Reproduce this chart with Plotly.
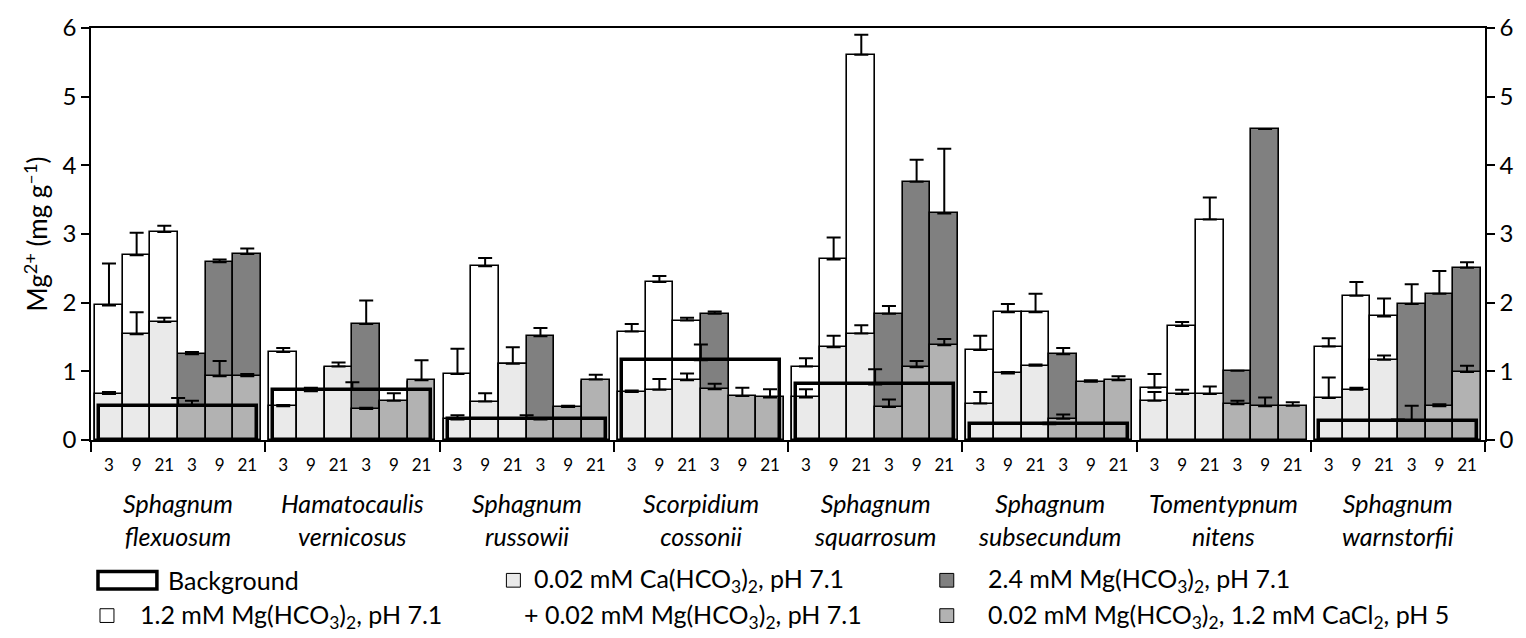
import plotly.graph_objects as go

# ---------------- data ----------------
genus = ["Sphagnum", "Hamatocaulis", "Sphagnum", "Scorpidium",
         "Sphagnum", "Sphagnum", "Tomentypnum", "Sphagnum"]
epithet = ["flexuosum", "vernicosus", "russowii", "cossonii",
           "squarrosum", "subsecundum", "nitens", "warnstorfii"]
days = ["3", "9", "21"]

# 1.2 mM Mg(HCO3)2, pH 7.1 (white), days 3/9/21 for each species
mg12 = [1.96, 2.69, 3.03,  1.28, 0.70, 1.05,  0.96, 2.53, 1.10,  1.58, 2.30, 1.74,
        1.07, 2.63, 5.61,  1.31, 1.86, 1.86,  0.76, 1.66, 3.21,  1.36, 2.10, 1.80]
mg12_err = [0.61, 0.33, 0.09,  0.06, 0.00, 0.00,  0.37, 0.12, 0.00,  0.11, 0.09, 0.04,
            0.12, 0.32, 0.29,  0.21, 0.12, 0.27,  0.20, 0.06, 0.32,  0.12, 0.20, 0.26]

# 0.02 mM Ca(HCO3)2 + 0.02 mM Mg(HCO3)2, pH 7.1 (light grey)
ca002 = [0.67, 1.54, 1.72,  0.49, 0.71, 1.07,  0.30, 0.56, 1.11,  0.70, 0.73, 0.87,
         0.62, 1.35, 1.55,  0.53, 0.97, 1.08,  0.57, 0.67, 0.67,  0.61, 0.73, 1.17]
ca002_err = [0.03, 0.32, 0.06,  0.02, 0.05, 0.06,  0.06, 0.12, 0.24,  0.02, 0.16, 0.10,
             0.12, 0.17, 0.12,  0.17, 0.02, 0.02,  0.13, 0.06, 0.11,  0.30, 0.03, 0.06]

# 2.4 mM Mg(HCO3)2, pH 7.1 (dark grey)
mg24 = [1.25, 2.59, 2.71,  1.69, 0.55, 0.85,  1.51, 0.46, 0.85,  1.84, 0.62, 0.60,
        1.84, 3.76, 3.30,  1.25, 0.83, 0.85,  1.01, 4.53, 0.48,  1.98, 2.13, 2.51]
mg24_err = [0.03, 0.04, 0.08,  0.34, 0.00, 0.00,  0.12, 0.00, 0.00,  0.03, 0.00, 0.00,
            0.11, 0.32, 0.94,  0.09, 0.00, 0.00,  0.00, 0.00, 0.00,  0.29, 0.33, 0.08]

# 0.02 mM Mg(HCO3)2, 1.2 mM CaCl2, pH 5 (medium grey)
mgca = [0.50, 0.93, 0.93,  0.45, 0.57, 0.87,  0.30, 0.48, 0.88,  0.74, 0.64, 0.62,
        0.48, 1.06, 1.38,  0.31, 0.85, 0.87,  0.52, 0.49, 0.50,  0.28, 0.49, 0.99]
mgca_err = [0.07, 0.22, 0.03,  0.02, 0.11, 0.29,  0.02, 0.02, 0.07,  0.08, 0.12, 0.12,
            0.11, 0.09, 0.09,  0.06, 0.02, 0.06,  0.05, 0.13, 0.05,  0.22, 0.03, 0.09]

# Background
background = [0.50, 0.73, 0.31, 1.16, 0.81, 0.23, None, 0.28]
background_err = [0.11, 0.11, 0.05, 0.23, 0.22, 0.02, 0.0, 0.02]

# ---------------- layout helpers ----------------
FONT = "Lato, 'Open Sans', sans-serif"
G = 6.3                      # width of one species group in bar units
n_groups = len(genus)


def bar_pos(g, i):
    return g * G + (G - 6) / 2 + 0.5 + i


x_first = [bar_pos(g, i) for g in range(n_groups) for i in range(3)]
x_second = [bar_pos(g, i + 3) for g in range(n_groups) for i in range(3)]
x_centers = [g * G + G / 2 for g in range(n_groups)]
bar_ticks = [bar_pos(g, i) for g in range(n_groups) for i in range(6)]
bar_ticktext = days * 2 * n_groups
boundaries = [g * G for g in range(n_groups + 1)]

L, R, T, B = 91, 39, 20, 198
W, H = 1526, 638
PW, PH = W - L - R, H - T - B


def px(X):
    return (X - L) / PW


def py(Y):
    return (H - B - Y) / PH


def err(arr):
    return dict(type="data", symmetric=False, array=arr, arrayminus=[0] * len(arr),
                color="black", thickness=2, width=7)


fig = go.Figure()
line = dict(color="black", width=1.6)
fig.add_bar(x=x_first, y=mg12, width=1, marker=dict(color="#FFFFFF", line=line),
            error_y=err(mg12_err), showlegend=False)
fig.add_bar(x=x_second, y=mg24, width=1, marker=dict(color="#808080", line=line),
            error_y=err(mg24_err), showlegend=False)
fig.add_bar(x=x_first, y=ca002, width=1, marker=dict(color="#EAEAEA", line=line),
            error_y=err(ca002_err), showlegend=False)
fig.add_bar(x=x_second, y=mgca, width=1, marker=dict(color="#B2B2B2", line=line),
            error_y=err(mgca_err), showlegend=False)
fig.add_bar(x=x_centers, y=background, width=5.72,
            marker=dict(color="rgba(0,0,0,0)", line=dict(color="black", width=3.5)),
            error_y=err(background_err), showlegend=False)
# invisible trace to activate the right-hand axis
fig.add_scatter(x=[x_centers[0]], y=[0], yaxis="y2", mode="markers",
                marker=dict(opacity=0), hoverinfo="skip", showlegend=False)

axis_font = dict(family=FONT, size=24, color="black")
fig.update_layout(
    width=W, height=H,
    margin=dict(l=L, r=R, t=T, b=B),
    paper_bgcolor="white", plot_bgcolor="white",
    barmode="overlay", bargap=0,
    font=dict(family=FONT, color="black"),
    xaxis=dict(range=[0, n_groups * G], tickmode="array", tickvals=bar_ticks,
               ticktext=bar_ticktext, ticks="", tickfont=dict(family=FONT, size=17, color="black"),
               ticklabelstandoff=9,
               showline=True, linecolor="black", linewidth=1.5, mirror=True,
               showgrid=False, zeroline=False,
               minor=dict(tickmode="array", tickvals=boundaries, ticks="outside",
                          ticklen=10, tickwidth=1.5, tickcolor="black", showgrid=False)),
    yaxis=dict(range=[0, 6], tickmode="array", tickvals=[0, 1, 2, 3, 4, 5, 6],
               ticks="outside", ticklen=8, tickwidth=1.5, tickcolor="black",
               showline=True, linecolor="black", linewidth=1.5,
               showgrid=False, zeroline=False, tickfont=axis_font,
               title=dict(text="Mg<sup>2+</sup> (mg g<sup>–1</sup>)",
                          font=dict(family=FONT, size=26, color="black"), standoff=7)),
    yaxis2=dict(range=[0, 6], overlaying="y", side="right", anchor="x",
                tickmode="array", tickvals=[0, 1, 2, 3, 4, 5, 6],
                ticks="outside", ticklen=8, tickwidth=1.5, tickcolor="black",
                showline=True, linecolor="black", linewidth=1.5,
                showgrid=False, zeroline=False, tickfont=axis_font),
)

annotations = []
sp_font = dict(family=FONT, size=25, color="black")
for g in range(n_groups):
    annotations.append(dict(x=x_centers[g], xref="x", y=py(521), yref="paper",
                            text=f"<i>{genus[g]}</i><br><i>{epithet[g]}</i>",
                            showarrow=False, yanchor="middle", xanchor="center",
                            font=sp_font))

legend_font = dict(family=FONT, size=25, color="black")
legend_items = [
    (166, 583, "Background"),
    (138, 619, "1.2 mM Mg(HCO<sub>3</sub>)<sub>2</sub>, pH 7.1"),
    (533, 583, "0.02 mM Ca(HCO<sub>3</sub>)<sub>2</sub>, pH 7.1"),
    (523, 619, "+ 0.02 mM Mg(HCO<sub>3</sub>)<sub>2</sub>, pH 7.1"),
    (987, 583, "2.4 mM Mg(HCO<sub>3</sub>)<sub>2</sub>, pH 7.1"),
    (987, 619, "0.02 mM Mg(HCO<sub>3</sub>)<sub>2</sub>, 1.2 mM CaCl<sub>2</sub>, pH 5"),
]
for X, Y, txt in legend_items:
    annotations.append(dict(x=px(X), xref="paper", y=py(Y), yref="paper", text=txt,
                            showarrow=False, xanchor="left", yanchor="middle",
                            font=legend_font))
fig.update_layout(annotations=annotations)

swatches = [
    (98, 574, 157, 592, "rgba(0,0,0,0)", 3.5),
    (100, 612, 114, 626, "#FFFFFF", 1),
    (507, 576, 521, 590, "#EAEAEA", 1),
    (941, 576, 955, 590, "#808080", 1),
    (941, 612, 955, 626, "#B2B2B2", 1),
]
shapes = []
for x0, y0, x1, y1, col, lw in swatches:
    shapes.append(dict(type="rect", xref="paper", yref="paper",
                       x0=px(x0), x1=px(x1), y0=py(y1), y1=py(y0),
                       fillcolor=col, line=dict(color="black", width=lw)))
fig.update_layout(shapes=shapes)

fig.write_html("out.html")
